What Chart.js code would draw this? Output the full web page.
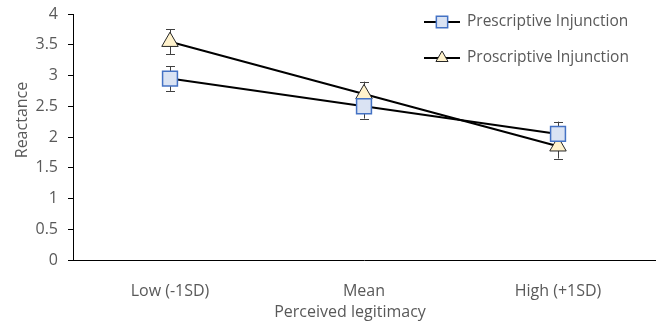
<!DOCTYPE html>
<html>
<head>
<meta charset="utf-8">
<script src="https://cdn.jsdelivr.net/npm/chart.js@4"></script>
<style>
  html, body { margin: 0; padding: 0; background: #fff; }
  #wrap { width: 657px; height: 324px; }
</style>
</head>
<body>
<div id="wrap"><canvas id="chart" width="657" height="324"></canvas></div>
<script>
const categories = ["Low (-1SD)", "Mean", "High (+1SD)"];
const prescriptive = [2.95, 2.5, 2.05];
const proscriptive = [3.55, 2.7, 1.85];
const prescriptiveErr = [0.2, 0.2, 0.2];
const proscriptiveErr = [0.2, 0.2, 0.2];
const yTicks = [0, 0.5, 1, 1.5, 2, 2.5, 3, 3.5, 4];

const textColor = "#595959";
const fontFamily = "'Open Sans', sans-serif";

// error bars behind the markers
const errorBars = {
  id: "errorBars",
  beforeDatasetsDraw(chart) {
    const { ctx, scales: { x, y } } = chart;
    ctx.save();
    ctx.strokeStyle = "#404040";
    ctx.lineWidth = 1;
    chart.data.datasets.forEach((ds) => {
      ds.data.forEach((v, i) => {
        const px = x.getPixelForValue(i);
        const top = y.getPixelForValue(v + ds.errors[i]);
        const bot = y.getPixelForValue(v - ds.errors[i]);
        ctx.beginPath();
        ctx.moveTo(px + 0.5, top);
        ctx.lineTo(px + 0.5, bot);
        ctx.moveTo(px - 4, Math.round(top) + 0.5);
        ctx.lineTo(px + 5, Math.round(top) + 0.5);
        ctx.moveTo(px - 4, Math.round(bot) + 0.5);
        ctx.lineTo(px + 5, Math.round(bot) + 0.5);
        ctx.stroke();
      });
    });
    ctx.restore();
  },
};

// legend in the top right and axis titles
const extras = {
  id: "extras",
  afterDraw(chart) {
    const { ctx } = chart;
    ctx.save();
    chart.data.datasets.forEach((ds, i) => {
      const yy = 22 + i * 36;
      ctx.strokeStyle = "#000";
      ctx.lineWidth = 2;
      ctx.beginPath();
      ctx.moveTo(424, yy);
      ctx.lineTo(460, yy);
      ctx.stroke();
      ctx.fillStyle = ds.pointBackgroundColor;
      ctx.strokeStyle = ds.pointBorderColor;
      ctx.lineWidth = ds.pointBorderWidth;
      Chart.helpers.drawPoint(ctx, {
        pointStyle: ds.pointStyle,
        radius: ds.legendRadius,
        rotation: 0,
        borderWidth: ds.pointBorderWidth,
      }, 442, yy);
      ctx.fillStyle = textColor;
      ctx.font = "15.5px " + fontFamily;
      ctx.textAlign = "left";
      ctx.textBaseline = "middle";
      ctx.fillText(ds.label, 467, yy);
    });

    ctx.fillStyle = textColor;
    ctx.font = "16px " + fontFamily;
    ctx.textAlign = "center";
    ctx.textBaseline = "middle";
    ctx.fillText("Perceived legitimacy", 350, 312);
    ctx.translate(22, 120);
    ctx.rotate(-Math.PI / 2);
    ctx.fillText("Reactance", 0, 0);
    ctx.restore();
  },
};

new Chart(document.getElementById("chart"), {
  type: "line",
  data: {
    labels: categories,
    datasets: [
      {
        label: "Prescriptive Injunction",
        data: prescriptive,
        errors: prescriptiveErr,
        borderColor: "#000",
        borderWidth: 2,
        pointStyle: "rect",
        pointRadius: 10.5,
        legendRadius: 8,
        pointBackgroundColor: "#dae3f3",
        pointBorderColor: "#4472c4",
        pointBorderWidth: 1.5,
        tension: 0,
      },
      {
        label: "Proscriptive Injunction",
        data: proscriptive,
        errors: proscriptiveErr,
        borderColor: "#000",
        borderWidth: 2,
        pointStyle: "triangle",
        pointRadius: 9.5,
        legendRadius: 7,
        pointBackgroundColor: "#fff2cc",
        pointBorderColor: "#262626",
        pointBorderWidth: 1,
        tension: 0,
      },
    ],
  },
  options: {
    responsive: false,
    animation: false,
    layout: { autoPadding: false, padding: { top: 14, right: 2, left: 0, bottom: 0 } },
    plugins: { legend: { display: false }, tooltip: { enabled: false } },
    scales: {
      x: {
        offset: true,
        grid: { display: false },
        border: { display: true, color: "#000", width: 1 },
        ticks: { color: textColor, font: { family: fontFamily, size: 16 }, padding: 14 },
        afterFit(scale) {
          scale.height = 64;
          scale.paddingLeft = 0;
          scale.paddingRight = 0;
        },
      },
      y: {
        min: 0,
        max: 4,
        afterBuildTicks(scale) { scale.ticks = yTicks.map((v) => ({ value: v })); },
        grid: { display: true, drawOnChartArea: false, drawTicks: true, tickLength: 5, color: "#000" },
        border: { display: true, color: "#000", width: 1 },
        ticks: {
          color: textColor,
          font: { family: fontFamily, size: 16 },
          padding: 10,
          callback: (v) => String(v),
        },
        afterFit(scale) {
          scale.width = 73;
          scale.paddingTop = 0;
          scale.paddingBottom = 0;
        },
      },
    },
  },
  plugins: [errorBars, extras],
});
</script>
</body>
</html>
